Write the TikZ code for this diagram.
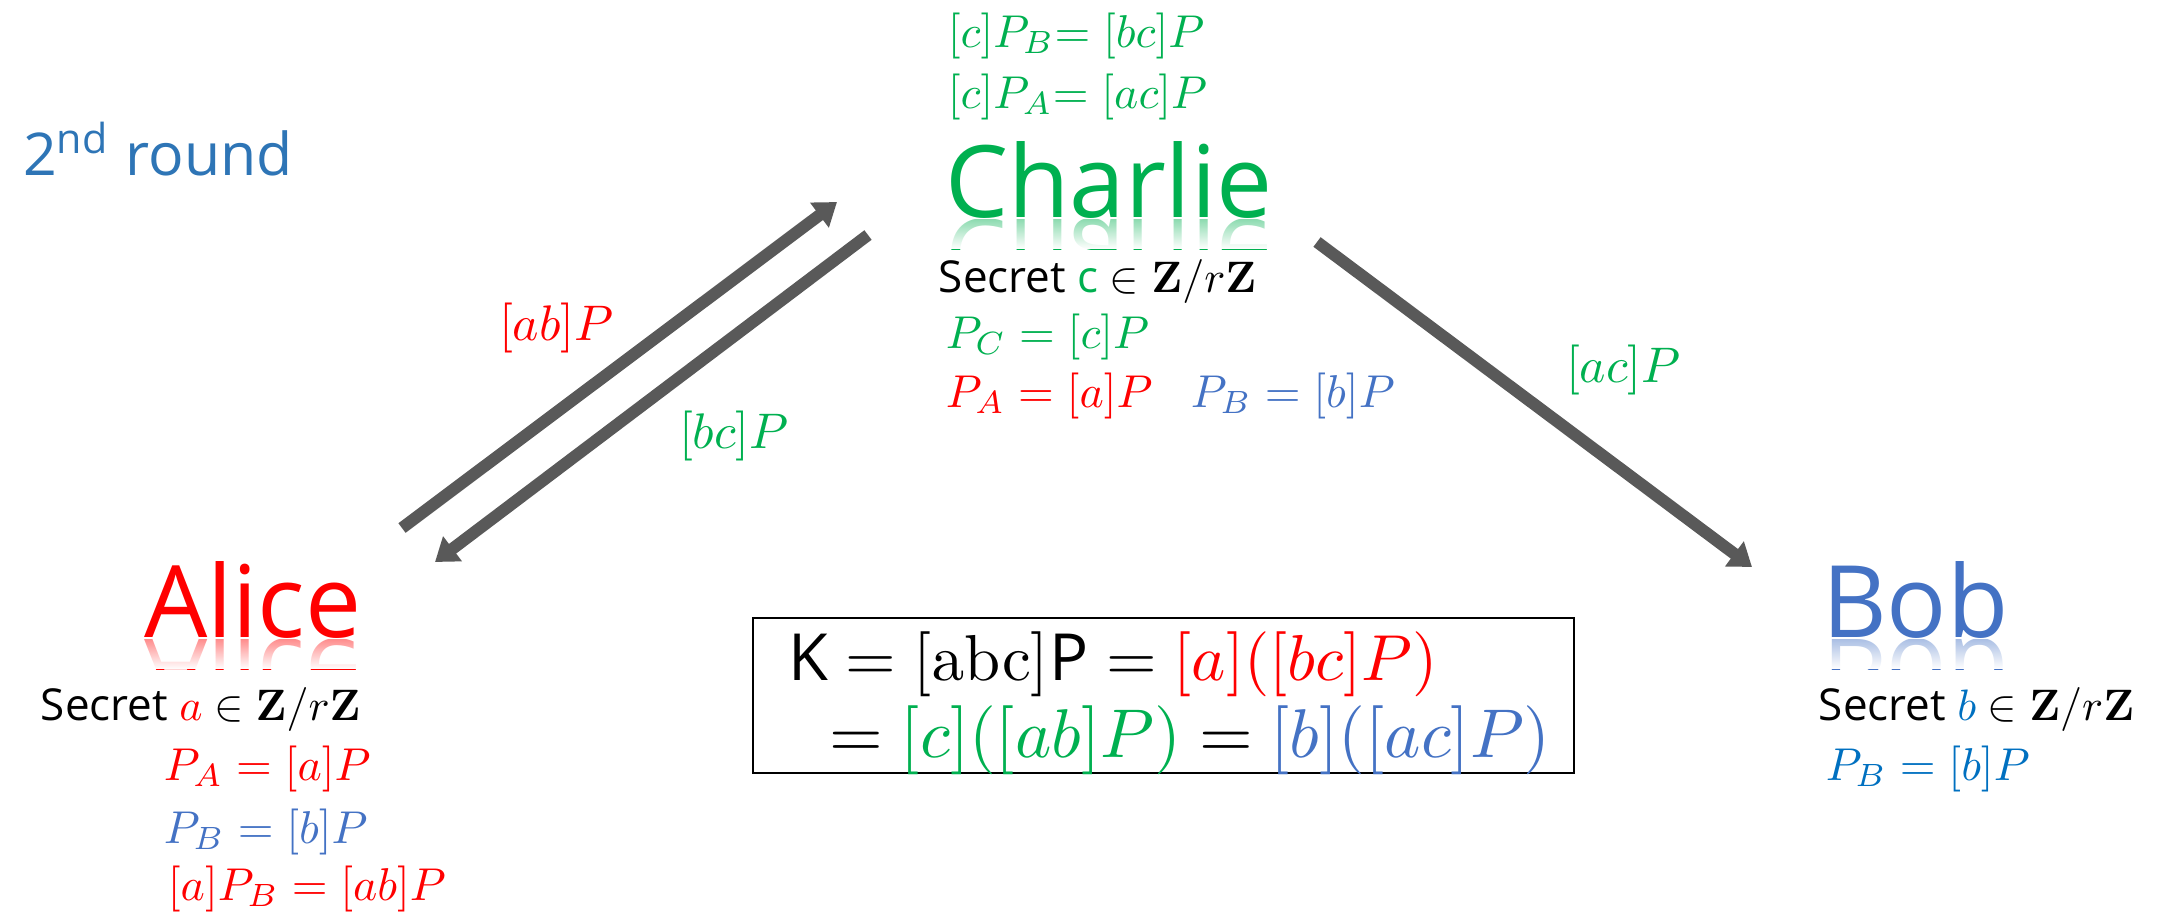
\documentclass[tikz,border=0pt]{standalone}
\usepackage[no-math]{fontspec}
\setmainfont{Open Sans}
\usetikzlibrary{arrows.meta,fadings}
\definecolor{cgreen}{HTML}{00B050}
\definecolor{cred}{HTML}{FF0000}
\definecolor{cblue}{HTML}{4472C4}
\definecolor{cblueb}{HTML}{0070C0}
\definecolor{cround}{HTML}{2E75B6}
\definecolor{carrow}{HTML}{595959}
\tikzfading[name=reflfade, top color=transparent!45, bottom color=transparent!0]
\begin{document}
\begin{tikzpicture}[x=1pt,y=-1pt,
  mathtxt/.style={anchor=base west, inner sep=0pt, scale=4.6},
  lbl/.style={anchor=base west, inner sep=0pt, scale=5.0},
  sectxt/.style={anchor=base west, inner sep=0pt, scale=4.4},
  person/.style={anchor=base west, inner sep=0pt, scale=10},
  boxtxt/.style={anchor=base west, inner sep=0pt},
  arr/.style={draw=carrow, line width=12pt, -{Triangle[length=22pt,width=30pt]}},
  cover/.style={fill=white, path fading=reflfade}]
\useasboundingbox (0,0) rectangle (2170,911);
% reflections
\begin{scope}
  \clip (930,219) rectangle (1280,249);
  \node[person, yscale=-1, text=cgreen] (crefl) at (943,219) {Charlie};
\end{scope}
\fill[cover] (930,219) rectangle (1280,249);
\begin{scope}
  \clip (130,639) rectangle (380,669);
  \node[person, yscale=-1, text=cred] (arefl) at (142,639) {Alice};
\end{scope}
\fill[cover] (130,639) rectangle (380,669);
\begin{scope}
  \clip (1810,639) rectangle (2010,669);
  \node[person, yscale=-1, text=cblue] (brefl) at (1820,639) {Bob};
\end{scope}
\fill[cover] (1810,639) rectangle (2010,669);
% title
\node[anchor=base west, inner sep=0pt, scale=5.9, text=cround] (round) at (22,175) {2\textsuperscript{nd} round};
% Charlie
\node[mathtxt, text=cgreen] (c1) at (947,47) {$[c]P_B{=}\;[bc]P$};
\node[mathtxt, text=cgreen] (c2) at (947,108) {$[c]P_A{=}\;[ac]P$};
\node[person, text=cgreen] (charlie) at (943,217) {Charlie};
\node[sectxt] (csec) at (938,292) {Secret \textcolor{cgreen}{c} $\in \mathbf{Z}/r\mathbf{Z}$};
\node[mathtxt, text=cgreen] (cpc) at (945,348) {$P_C = [c]P$};
\node[mathtxt, text=cred] (cpa) at (945,407) {$P_A = [a]P$};
\node[mathtxt, text=cblue] (cpb) at (1190,407) {$P_B = [b]P$};
% Alice
\node[person, text=cred] (alice) at (142,637) {Alice};
\node[sectxt] (asec) at (40,720) {Secret \textcolor{cred}{$a$} $\in \mathbf{Z}/r\mathbf{Z}$};
\node[mathtxt, text=cred] (apa) at (163,780) {$P_A = [a]P$};
\node[mathtxt, text=cblue] (apb) at (163,843) {$P_B = [b]P$};
\node[mathtxt, text=cred] (aab) at (167,900) {$[a]P_B = [ab]P$};
% Bob
\node[person, text=cblue] (bob) at (1820,637) {Bob};
\node[sectxt] (bsec) at (1818,720) {Secret \textcolor{cblueb}{$b$} $\in \mathbf{Z}/r\mathbf{Z}$};
\node[mathtxt, text=cblueb] (bpb) at (1825,780) {$P_B = [b]P$};
% key box
\node[draw=black, line width=2pt, minimum width=821pt, minimum height=155pt, inner sep=0pt] (keybox) at (1163.5,695.5) {};
\node[boxtxt, scale=6.5] (k1) at (787,680) {K $=[\mathrm{abc}]\mbox{P}=$ \textcolor{cred}{$[a]([bc]P)$}};
\node[boxtxt, scale=6.9] (k2) at (828,757) {$=$ \textcolor{cgreen}{$[c]([ab]P)$} $=$ \textcolor{cblue}{$[b]([ac]P)$}};
% arrows
\coordinate (ac1) at (402,528); \coordinate (ac2) at (837,202);
\coordinate (ca1) at (868,235); \coordinate (ca2) at (435,562);
\coordinate (cb1) at (1317,242); \coordinate (cb2) at (1752,567);
\draw[arr] (ac1) -- (ac2);
\draw[arr] (ca1) -- (ca2);
\draw[arr] (cb1) -- (cb2);
% labels
\node[lbl, text=cred] (lab) at (498,340) {$[ab]P$};
\node[lbl, text=cgreen] (lbc) at (678,448) {$[bc]P$};
\node[lbl, text=cgreen] (lac) at (1565,382) {$[ac]P$};
\end{tikzpicture}
\end{document}
